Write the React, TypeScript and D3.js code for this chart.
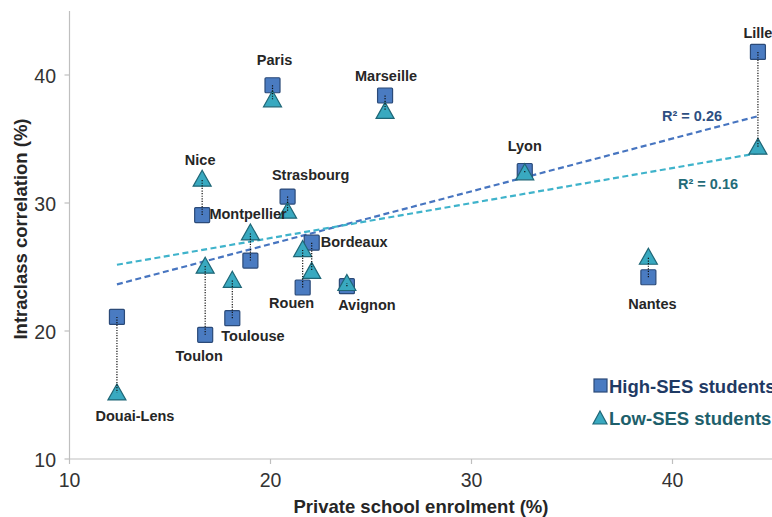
import React from "react";
import * as d3 from "d3";

// City-level data: private school enrolment vs intraclass correlation
const cities = [
  "Douai-Lens", "Toulon", "Nice", "Toulouse", "Montpellier", "Paris", "Strasbourg",
  "Rouen", "Bordeaux", "Avignon", "Marseille", "Lyon", "Nantes", "Lille",
];
const enrolment = [12.36, 16.75, 16.6, 18.1, 19.0, 20.1, 20.85, 21.6, 22.05, 23.8, 25.7, 32.65, 38.8, 44.25];
const highSES = [21.1, 19.7, 29.06, 21.0, 25.5, 39.2, 30.5, 23.4, 26.9, 23.5, 38.4, 32.5, 24.2, 41.8];
const lowSES = [15.2, 25.1, 31.9, 24.0, 27.7, 38.1, 29.4, 26.4, 24.7, 23.75, 37.2, 32.4, 25.8, 34.4];
const xTicks = [10, 20, 30, 40];
const yTicks = [10, 20, 30, 40];
const seriesNames = ["High-SES students", "Low-SES students"];

// Label placement relative to each city's marker pair
const labelPlacement: Record<string, { dx: number; y: "top" | "bottom"; dy: number; anchor: string }> = {
  "Douai-Lens": { dx: 18, y: "bottom", dy: 24, anchor: "middle" },
  Toulon: { dx: -6, y: "bottom", dy: 21, anchor: "middle" },
  Nice: { dx: -2, y: "top", dy: -19, anchor: "middle" },
  Toulouse: { dx: -11, y: "bottom", dy: 18, anchor: "start" },
  Montpellier: { dx: -41, y: "top", dy: -18, anchor: "start" },
  Paris: { dx: 2, y: "top", dy: -25, anchor: "middle" },
  Strasbourg: { dx: 23, y: "top", dy: -22, anchor: "middle" },
  Rouen: { dx: -11, y: "bottom", dy: 16, anchor: "middle" },
  Bordeaux: { dx: 9, y: "top", dy: -1, anchor: "start" },
  Avignon: { dx: 20, y: "bottom", dy: 19, anchor: "middle" },
  Marseille: { dx: 1, y: "top", dy: -19, anchor: "middle" },
  Lyon: { dx: 0, y: "top", dy: -25, anchor: "middle" },
  Nantes: { dx: 4, y: "bottom", dy: 27, anchor: "middle" },
  Lille: { dx: 0, y: "top", dy: -19, anchor: "middle" },
};

const W = 772;
const H = 517;
const x = d3.scaleLinear().domain([10, 45]).range([69.5, 773]);
const y = d3.scaleLinear().domain([10, 45]).range([459, 11]);

const HIGH_FILL = "#4a7bc1";
const HIGH_STROKE = "#2b4a78";
const LOW_FILL = "#39a9c0";
const LOW_STROKE = "#1f6676";
const HIGH_TREND = "#4775c0";
const LOW_TREND = "#3fb3cb";
const FONT = "'Liberation Sans', Arial, sans-serif";

function regression(xs: number[], ys: number[]) {
  const mx = d3.mean(xs)!;
  const my = d3.mean(ys)!;
  let sxy = 0, sxx = 0, syy = 0;
  xs.forEach((v, i) => {
    sxy += (v - mx) * (ys[i] - my);
    sxx += (v - mx) ** 2;
    syy += (ys[i] - my) ** 2;
  });
  const slope = sxy / sxx;
  const intercept = my - slope * mx;
  return { slope, intercept, r2: (sxy * sxy) / (sxx * syy) };
}

function trianglePath(cx: number, cy: number, w = 18, h = 15) {
  return `M${cx},${cy - h / 2 - 1}L${cx + w / 2},${cy + h / 2}L${cx - w / 2},${cy + h / 2}Z`;
}

export default function App() {
  const points = cities.map((c, i) => ({ city: c, x: enrolment[i], hi: highSES[i], lo: lowSES[i] }));
  const xExt = d3.extent(enrolment) as [number, number];
  const regHi = regression(enrolment, highSES);
  const regLo = regression(enrolment, lowSES);

  const trend = d3.line<[number, number]>().x((d) => x(d[0])).y((d) => y(d[1]));
  const hiPts: [number, number][] = xExt.map((v) => [v, regHi.intercept + regHi.slope * v]);
  const loPts: [number, number][] = xExt.map((v) => [v, regLo.intercept + regLo.slope * v]);

  return (
    <div style={{ position: "absolute", left: 0, top: 0 }}>
      <svg width={W} height={H} style={{ display: "block", background: "#fff" }} fontFamily={FONT}>
        {/* axes */}
        <line x1={x(10)} x2={W} y1={y(10)} y2={y(10)} stroke="#bfbfbf" strokeWidth={1.2} />
        <line x1={x(10)} x2={x(10)} y1={y(45)} y2={y(10)} stroke="#bfbfbf" strokeWidth={1.2} />
        {xTicks.map((t) => (
          <g key={"xt" + t}>
            <line x1={x(t)} x2={x(t)} y1={y(10)} y2={y(10) + 5} stroke="#bfbfbf" strokeWidth={1.2} />
            <text x={x(t)} y={487} textAnchor="middle" fontSize={19.5} fill="#333" style={{ fontStretch: "condensed" }}>
              {t}
            </text>
          </g>
        ))}
        {yTicks.map((t) => (
          <g key={"yt" + t}>
            <line x1={x(10) - 5} x2={x(10)} y1={y(t)} y2={y(t)} stroke="#bfbfbf" strokeWidth={1.2} />
            <text x={56} y={y(t) + 7.5} textAnchor="end" fontSize={19.5} fill="#333">
              {t}
            </text>
          </g>
        ))}
        <text x={421} y={513} textAnchor="middle" fontSize={18.5} fontWeight="bold" fill="#262626">
          Private school enrolment (%)
        </text>
        <text
          transform={`translate(27,229) rotate(-90)`}
          textAnchor="middle"
          fontSize={18.5}
          fontWeight="bold"
          fill="#262626"
        >
          Intraclass correlation (%)
        </text>

        {/* trend lines */}
        <path d={trend(hiPts)!} stroke={HIGH_TREND} strokeWidth={2.2} strokeDasharray="6,3.5" fill="none" />
        <path d={trend(loPts)!} stroke={LOW_TREND} strokeWidth={2.2} strokeDasharray="6,3.5" fill="none" />
        <text x={692} y={121} textAnchor="middle" fontSize={14.5} fontWeight="bold" fill="#2e4f82">
          {`R² = ${regHi.r2.toFixed(2)}`}
        </text>
        <text x={708} y={189} textAnchor="middle" fontSize={14.5} fontWeight="bold" fill="#236b78">
          {`R² = ${regLo.r2.toFixed(2)}`}
        </text>

        {/* markers */}
        {points.map((p) => (
          <rect
            key={"s" + p.city}
            x={x(p.x) - 7.5}
            y={y(p.hi) - 7.5}
            width={15}
            height={15}
            rx={1}
            fill={HIGH_FILL}
            stroke={HIGH_STROKE}
            strokeWidth={1.2}
          />
        ))}
        {points.map((p) => (
          <path key={"t" + p.city} d={trianglePath(x(p.x), y(p.lo))} fill={LOW_FILL} stroke={LOW_STROKE} strokeWidth={1.2} />
        ))}
        {points.map((p) => (
          <line
            key={"c" + p.city}
            x1={x(p.x)}
            x2={x(p.x)}
            y1={y(p.hi)}
            y2={y(p.lo)}
            stroke="#111"
            strokeWidth={1.2}
            strokeDasharray="1.2,1.4"
          />
        ))}

        {/* city labels */}
        {points.map((p) => {
          const lp = labelPlacement[p.city];
          const top = Math.min(y(p.hi), y(p.lo));
          const bot = Math.max(y(p.hi), y(p.lo));
          const base = lp.y === "top" ? top : bot;
          return (
            <text
              key={"l" + p.city}
              x={x(p.x) + lp.dx}
              y={base + lp.dy + 5}
              textAnchor={lp.anchor as any}
              fontSize={14.5}
              fontWeight="bold"
              fill="#262626"
            >
              {p.city}
            </text>
          );
        })}

        {/* legend */}
        <rect x={594} y={379} width={13} height={13} fill={HIGH_FILL} stroke={HIGH_STROKE} strokeWidth={1.2} />
        <text x={609} y={393} fontSize={18.5} fontWeight="bold" fill="#1f3a64">
          {seriesNames[0]}
        </text>
        <path d={trianglePath(600, 418, 14, 12)} fill={LOW_FILL} stroke={LOW_STROKE} strokeWidth={1.2} />
        <text x={609} y={425} fontSize={18.5} fontWeight="bold" fill="#1e5f6b">
          {seriesNames[1]}
        </text>
      </svg>
    </div>
  );
}
